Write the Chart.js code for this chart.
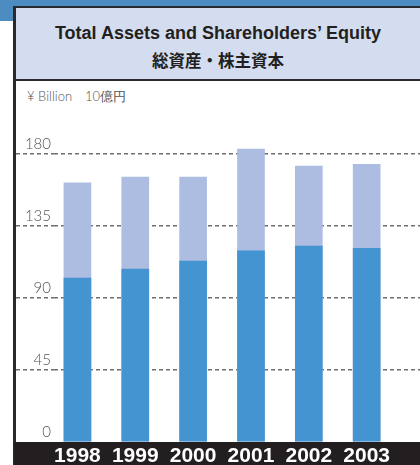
<!DOCTYPE html>
<html>
<head>
<meta charset="utf-8">
<script src="https://cdn.jsdelivr.net/npm/chart.js@4.4.1/dist/chart.umd.min.js"></script>
<style>
  body { margin: 0; background: #fff; }
  #page { position: relative; width: 420px; height: 465px; overflow: hidden; background: #fff; }
  #bandTop { position: absolute; left: 0; top: 0; width: 420px; height: 7px; background: #4d8cc1; }
  #bandLeft { position: absolute; left: 0; top: 0; width: 14px; height: 21px; background: #4d8cc1; }
  #panel { position: absolute; left: 13px; top: 6px; width: 407px; height: 459px; background: #fff;
           border-left: 3px solid #2a2a2e; border-top: 2px solid #2a2a2e; box-sizing: border-box; }
  #header { position: absolute; left: 0; top: 0; width: 404px; height: 71px; background: #d4ddef;
            border-bottom: 2px solid #2a2a2e; box-sizing: content-box; }
  #t1 { position: absolute; left: 0; width: 404px; top: 15px; text-align: center;
        font: bold 18px "Liberation Sans", sans-serif; color: #231f20; }
  #t2 { position: absolute; left: 0; width: 404px; top: 40px; text-align: center;
        font: bold 16.5px "Noto Sans CJK JP", sans-serif; color: #231f20; }
  #unit { position: absolute; left: 27px; top: 88px; font: 300 13px Lato, sans-serif; color: #555; }
  #floor { position: absolute; left: 14px; top: 442px; width: 406px; height: 23px; background: #231f20; }
  #wrap { position: absolute; left: 16px; top: 122px; width: 404px; height: 343px; }
</style>
</head>
<body>
<div id="page">
  <div id="bandTop"></div>
  <div id="bandLeft"></div>
  <div id="panel">
    <div id="header">
      <div id="t1">Total Assets and Shareholders’ Equity</div>
      <div id="t2">総資産・株主資本</div>
    </div>
  </div>
  <div id="unit">¥ Billion　10億円</div>
  <div id="floor"></div>
  <div id="wrap"><canvas id="chart"></canvas></div>
</div>
<script>
const years = [1998, 1999, 2000, 2001, 2002, 2003];
const totalAssets = [162, 165.5, 165.5, 183, 172.5, 173.5];
const equity = [102.5, 108, 113, 119.5, 122.5, 121];
const yTicks = [0, 45, 90, 135, 180];

const gridColor = ctx => ctx.tick && ctx.tick.value === 0 ? 'rgba(0,0,0,0)' : '#6f6f6f';

const ctx = document.getElementById('chart');
new Chart(ctx, {
  type: 'bar',
  data: {
    datasets: [
      {
        label: 'Shareholders’ Equity',
        data: equity.map((v, i) => ({ x: years[i], y: v })),
        backgroundColor: '#4394d1',
        barThickness: 27,
        grouped: false
      },
      {
        label: 'Total Assets',
        data: totalAssets.map((v, i) => ({ x: years[i], y: v })),
        backgroundColor: '#adbde1',
        barThickness: 27,
        grouped: false
      }
    ]
  },
  options: {
    responsive: true,
    maintainAspectRatio: false,
    animation: false,
    layout: { padding: 0 },
    plugins: { legend: { display: false }, tooltip: { enabled: false } },
    scales: {
      x: {
        type: 'linear',
        offset: false,
        min: 1997.595,
        max: 2003.922,
        afterBuildTicks: s => { s.ticks = years.map(v => ({ value: v })); },
        afterFit: s => { s.height = 23; s.paddingLeft = 0; s.paddingRight = 0; },
        grid: { display: false, drawTicks: false },
        border: { display: false },
        ticks: {
          color: '#ffffff',
          font: { family: 'Liberation Sans', weight: 'bold', size: 21 },
          padding: 2,
          maxRotation: 0,
          autoSkip: false,
          callback: v => String(v)
        }
      },
      y: {
        min: 0,
        max: 200,
        afterBuildTicks: s => { s.ticks = yTicks.map(v => ({ value: v })); },
        afterFit: s => { s.width = 38; s.paddingTop = 0; s.paddingBottom = 0; },
        border: { display: false, dash: [4, 3] },
        grid: {
          color: gridColor,
          lineWidth: 1.5,
          tickLength: 38,
          tickBorderDash: [4, 3],
          tickColor: gridColor
        },
        ticks: {
          color: '#555',
          font: { family: 'Lato', weight: 300, size: 15 },
          padding: -35,
          labelOffset: -10
        }
      }
    }
  }
});
</script>
</body>
</html>
